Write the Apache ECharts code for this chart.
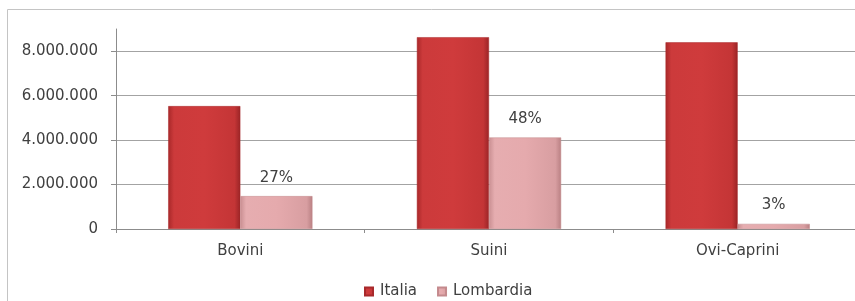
<!DOCTYPE html>
<html>
<head>
<meta charset="utf-8">
<script src="https://cdn.jsdelivr.net/npm/echarts@6/dist/echarts.min.js"></script>
<style>
  html, body { margin: 0; padding: 0; background: #fff; }
  #chart { width: 855px; height: 301px; }
</style>
</head>
<body>
<div id="chart"></div>
<script>
// dati
const categorie = ['Bovini', 'Suini', 'Ovi-Caprini'];
const italia = [5530000, 8630000, 8400000];
const lombardia = [1480000, 4120000, 230000];
const percentuali = [27, 48, 3];

const chart = echarts.init(document.getElementById('chart'));

// colori con effetto "rilievo" tipo Excel
const rosso = new echarts.graphic.LinearGradient(0, 0, 1, 0, [
  { offset: 0, color: '#a82829' },
  { offset: 0.08, color: '#cc3a3b' },
  { offset: 0.5, color: '#cf3b3c' },
  { offset: 0.92, color: '#c43536' },
  { offset: 1, color: '#9a2426' }
]);
const rosa = new echarts.graphic.LinearGradient(0, 0, 1, 0, [
  { offset: 0, color: '#c98f92' },
  { offset: 0.08, color: '#e6adb0' },
  { offset: 0.5, color: '#e5aaad' },
  { offset: 0.92, color: '#d89ea1' },
  { offset: 1, color: '#b98083' }
]);

const font = 'DejaVu Sans';

chart.setOption({
  animation: false,
  textStyle: { fontFamily: font },
  graphic: [{
    type: 'rect',
    shape: { x: 7.5, y: 9.5, width: 900, height: 400 },
    style: { fill: 'none', stroke: '#c4c4c4', lineWidth: 1 },
    silent: true
  }],
  grid: { left: 116, width: 746, top: 29, bottom: 72, outerBoundsMode: 'none', containLabel: false },
  legend: {
    bottom: -3,
    left: 359,
    icon: 'rect',
    itemWidth: 8,
    itemHeight: 8,
    itemGap: 20,
    textStyle: { fontFamily: font, fontSize: 15, color: '#404040', padding: [0, 0, 0, 2] },
    data: ['Italia', 'Lombardia']
  },
  xAxis: {
    type: 'category',
    data: categorie,
    axisLine: { lineStyle: { color: '#8c8c8c' } },
    axisTick: { show: true, length: 4, lineStyle: { color: '#8c8c8c' } },
    axisLabel: { fontFamily: font, fontSize: 15, color: '#404040', margin: 15 }
  },
  yAxis: {
    type: 'value',
    min: 0,
    max: 9000000,
    interval: 2000000,
    axisLine: { show: true, lineStyle: { color: '#8c8c8c' } },
    axisTick: { show: true, length: 5, lineStyle: { color: '#8c8c8c' } },
    axisLabel: {
      fontFamily: font, fontSize: 15, color: '#404040', margin: 18,
      showMaxLabel: false,
      formatter: v => v === 9000000 ? '' : v.toString().replace(/\B(?=(\d{3})+(?!\d))/g, '.')
    },
    splitLine: {
      show: true,
      lineStyle: { color: ['#a3a3a3', '#a3a3a3', '#a3a3a3', '#a3a3a3', '#a3a3a3', 'rgba(0,0,0,0)'] }
    }
  },
  series: [
    {
      name: 'Italia',
      type: 'bar',
      data: italia,
      barGap: '0%',
      barCategoryGap: '42%',
      itemStyle: { color: rosso, borderColor: '#a8292b', borderWidth: 0.5 }
    },
    {
      name: 'Lombardia',
      type: 'bar',
      data: lombardia,
      itemStyle: { color: rosa, borderColor: '#c48a8d', borderWidth: 0.5 },
      label: {
        show: true,
        position: 'top',
        distance: 11,
        fontFamily: font,
        fontSize: 15,
        color: '#404040',
        formatter: p => percentuali[p.dataIndex] + '%'
      }
    }
  ],
  color: ['#c83537', '#e3a9ac']
});
</script>
</body>
</html>
